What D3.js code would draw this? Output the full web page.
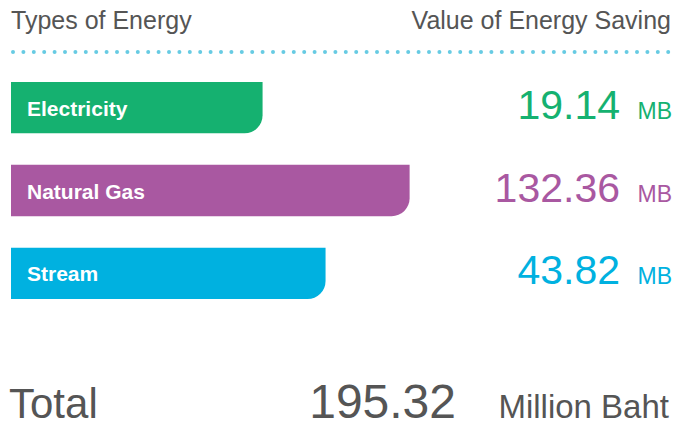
<!DOCTYPE html>
<html>
<head>
<meta charset="utf-8">
<script src="https://cdn.jsdelivr.net/npm/d3@7"></script>
<style>
  html, body { margin: 0; padding: 0; background: #fff; }
  svg text { font-family: "Liberation Sans", Arial, sans-serif; }
</style>
</head>
<body>
<div id="chart"></div>
<script>
// data
var energyTypes = ['Electricity', 'Natural Gas', 'Stream'];
var energyValues = [19.14, 132.36, 43.82];
var energyColors = ['#15b170', '#a958a1', '#00b1e0'];
var unitShort = 'MB';
var unitLong = 'Million Baht';
var headLeft = 'Types of Energy';
var headRight = 'Value of Energy Saving';

const width = 674, height = 428;
const margin = {left: 11, right: 3};

var rows = energyTypes.map((t, i) => ({name: t, value: energyValues[i], color: energyColors[i]}));
var total = d3.sum(energyValues);

var svg = d3.select('#chart').append('svg')
  .attr('width', width)
  .attr('height', height);

// 頂部標題
svg.append('text')
  .attr('x', margin.left)
  .attr('y', 29)
  .style('font-size', '25px')
  .style('fill', '#555')
  .text(headLeft);
svg.append('text')
  .attr('x', width - margin.right)
  .attr('y', 29)
  .style('font-size', '25px')
  .style('fill', '#555')
  .style('text-anchor', 'end')
  .text(headRight);

// 點線
svg.append('line')
  .attr('x1', 13).attr('x2', width - 4)
  .attr('y1', 52).attr('y2', 52)
  .style('stroke', '#67cbe3')
  .style('stroke-width', 4)
  .style('stroke-linecap', 'round')
  .style('stroke-dasharray', '0 10.4');

// scales - bar length grows on a log scale
var x = d3.scaleLog()
  .domain([0.7, 200])
  .range([margin.left, 441]);
var y = d3.scaleBand()
  .domain(energyTypes)
  .range([82, 299])
  .paddingInner(0.38);

const r = 18;
function barPath(d) {
  var x0 = margin.left, x1 = x(d.value), y0 = y(d.name), y1 = y0 + y.bandwidth();
  return `M${x0},${y0}H${x1}V${y1 - r}A${r},${r} 0 0 1 ${x1 - r},${y1}H${x0}Z`;
}

svg.selectAll('path.bar')
  .data(rows)
  .enter()
  .append('path')
  .attr('class', 'bar')
  .attr('d', barPath)
  .style('fill', d => d.color);

svg.selectAll('text.label')
  .data(rows)
  .enter()
  .append('text')
  .attr('class', 'label')
  .attr('x', 27)
  .attr('y', d => y(d.name) + y.bandwidth() / 2 + 8)
  .style('font-size', '21px')
  .style('font-weight', 'bold')
  .style('fill', '#fff')
  .text(d => d.name);

// 數值
svg.selectAll('text.value')
  .data(rows)
  .enter()
  .append('text')
  .attr('class', 'value')
  .attr('x', 620)
  .attr('y', d => y(d.name) + y.bandwidth() / 2 + 11)
  .style('font-size', '41px')
  .style('text-anchor', 'end')
  .style('fill', d => d.color)
  .text(d => d3.format('.2f')(d.value));

svg.selectAll('text.unit')
  .data(rows)
  .enter()
  .append('text')
  .attr('class', 'unit')
  .attr('x', 672)
  .attr('y', d => y(d.name) + y.bandwidth() / 2 + 11)
  .style('font-size', '23px')
  .style('text-anchor', 'end')
  .style('fill', d => d.color)
  .text(unitShort);

// Total
svg.append('text')
  .attr('x', 9)
  .attr('y', 418)
  .style('font-size', '42px')
  .style('fill', '#555')
  .text('Total');
svg.append('text')
  .attr('x', 456)
  .attr('y', 418)
  .style('font-size', '48px')
  .style('fill', '#555')
  .style('text-anchor', 'end')
  .text(d3.format('.2f')(total));
svg.append('text')
  .attr('x', 669)
  .attr('y', 418)
  .style('font-size', '33px')
  .style('fill', '#555')
  .style('text-anchor', 'end')
  .text(unitLong);
</script>
</body>
</html>
